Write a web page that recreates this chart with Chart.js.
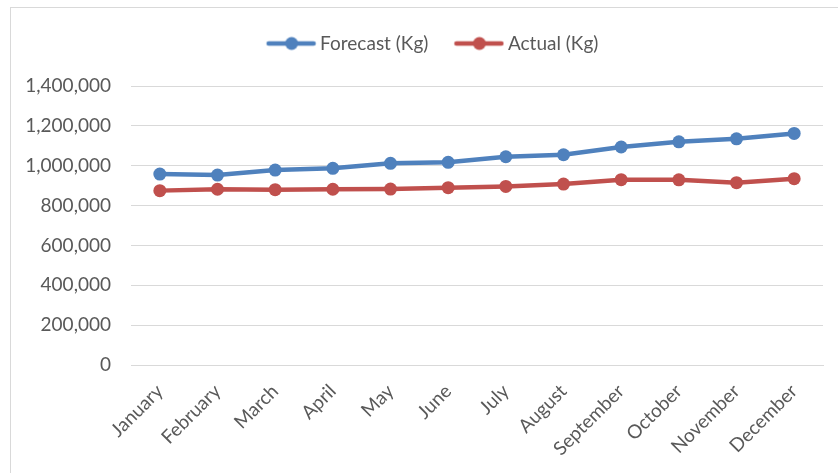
<!DOCTYPE html>
<html>
<head>
<meta charset="utf-8">
<script src="https://cdn.jsdelivr.net/npm/chart.js@4.4.1/dist/chart.umd.min.js"></script>
<style>
  html, body { margin: 0; padding: 0; background: #fff; overflow: hidden; }
  #frame { position: absolute; left: 10px; top: 7px; width: 900px; height: 500px; border: 1px solid #d9d9d9; }
  #wrap { position: absolute; left: 0; top: 0; width: 838px; height: 473px; }
</style>
</head>
<body>
<div id="frame"></div>
<div id="wrap"><canvas id="chart" width="838" height="473"></canvas></div>
<script>
const months = ['January', 'February', 'March', 'April', 'May', 'June', 'July',
	'August', 'September', 'October', 'November', 'December'];
const forecastKg = [958000, 953000, 978000, 987000, 1012000, 1017000, 1045000,
	1055000, 1094000, 1120000, 1135000, 1162000];
const actualKg = [875000, 882000, 880000, 882000, 883000, 890000, 896000,
	908000, 930000, 929000, 915000, 935000];

const blue = '#4f81bd';
const red = '#c0504d';
const textColor = '#595959';
const gridColor = '#d9d9d9';
const font = { family: 'Lato', size: 19 };

// legend icon: a short line with a dot, placed at the right of a wider canvas
function legendIcon(color) {
	const c = document.createElement('canvas');
	c.width = 72;
	c.height = 16;
	const g = c.getContext('2d');
	g.strokeStyle = color;
	g.lineWidth = 4.5;
	g.lineCap = 'round';
	g.beginPath();
	g.moveTo(72 - 48, 8);
	g.lineTo(72 - 3, 8);
	g.stroke();
	g.fillStyle = color;
	g.beginPath();
	g.arc(72 - 25, 8, 6.5, 0, Math.PI * 2);
	g.fill();
	return c;
}

// extra room between the legend and the plot
const legendGap = {
	id: 'legendGap',
	beforeLayout(chart) {
		const lg = chart.legend;
		if (lg && !lg._gapDone) {
			const fit = lg.fit;
			lg.fit = function () {
				fit.call(this);
				this.height += 23;
			};
			lg._gapDone = true;
		}
	}
};

const ctx = document.getElementById('chart').getContext('2d');

new Chart(ctx, {
	type: 'line',
	data: {
		labels: months,
		datasets: [{
			label: 'Forecast (Kg)',
			data: forecastKg,
			borderColor: blue,
			backgroundColor: blue,
			borderWidth: 4.5,
			pointRadius: 6.5,
			pointHoverRadius: 6.5,
			pointBorderWidth: 0,
			tension: 0
		}, {
			label: 'Actual (Kg)',
			data: actualKg,
			borderColor: red,
			backgroundColor: red,
			borderWidth: 4.5,
			pointRadius: 6.5,
			pointHoverRadius: 6.5,
			pointBorderWidth: 0,
			tension: 0
		}]
	},
	plugins: [legendGap],
	options: {
		responsive: false,
		animation: false,
		layout: {
			padding: { left: 26, right: 15, top: 24, bottom: 0 }
		},
		plugins: {
			tooltip: { enabled: false },
			legend: {
				position: 'top',
				labels: {
					usePointStyle: true,
					pointStyleWidth: 60,
					padding: 10,
					color: textColor,
					font: font,
					generateLabels(chart) {
						return Chart.defaults.plugins.legend.labels.generateLabels(chart).map((item, i) => {
							item.pointStyle = legendIcon(i === 0 ? blue : red);
							return item;
						});
					}
				}
			}
		},
		scales: {
			x: {
				offset: true,
				grid: { display: false },
				border: { display: true, color: gridColor },
				ticks: {
					color: textColor,
					font: font,
					minRotation: 45,
					maxRotation: 45,
					padding: 7
				},
				afterFit(scale) { scale.height = 108; }
			},
			y: {
				min: 0,
				max: 1400000,
				grid: { color: gridColor, drawTicks: false },
				border: { display: false },
				ticks: {
					stepSize: 200000,
					color: textColor,
					padding: 20,
					font: font,
					callback: v => v.toLocaleString('en-US')
				},
				afterFit(scale) { scale.width = 105; }
			}
		}
	}
});
</script>
</body>
</html>
